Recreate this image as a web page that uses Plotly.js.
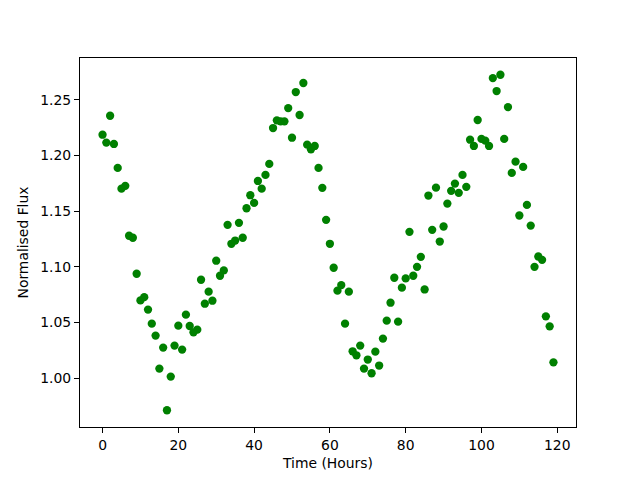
<!DOCTYPE html>
<html>
<head>
<meta charset="utf-8">
<script src="https://cdn.plot.ly/plotly-3.0.1.min.js"></script>
<style>html,body{margin:0;padding:0;background:#fff;}#chart{width:640px;height:480px;}</style>
</head>
<body>
<div id="chart"></div>
<script>
const hours = Array.from({length: 120}, (_, i) => i);
const flux = [
  1.2186, 1.2115, 1.2356, 1.2103, 1.1888, 1.1702, 1.1727, 1.1279, 1.1261, 1.0938,
  1.0699, 1.0728, 1.0616, 1.0490, 1.0383, 1.0087, 1.0275, 0.9713, 1.0015, 1.0293,
  1.0472, 1.0257, 1.0571, 1.0469, 1.0412, 1.0436, 1.0884, 1.0669, 1.0777, 1.0696,
  1.1055, 1.0920, 1.0968, 1.1377, 1.1207, 1.1236, 1.1395, 1.1261, 1.1526, 1.1643,
  1.1574, 1.1771, 1.1702, 1.1825, 1.1924, 1.2246, 1.2315, 1.2306, 1.2306, 1.2425,
  1.2159, 1.2569, 1.2363, 1.2650, 1.2097, 1.2055, 1.2085, 1.1888, 1.1709, 1.1422,
  1.1207, 1.0992, 1.0786, 1.0836, 1.0490, 1.0777, 1.0242, 1.0206, 1.0293, 1.0087,
  1.0168, 1.0045, 1.0239, 1.0114, 1.0356, 1.0517, 1.0678, 1.0902, 1.0508, 1.0813,
  1.0896, 1.1314, 1.0920, 1.1000, 1.1090, 1.0797, 1.1640, 1.1332, 1.1711, 1.1227,
  1.1362, 1.1568, 1.1682, 1.1747, 1.1664, 1.1825, 1.1718, 1.2141, 1.2085, 1.2318,
  1.2148, 1.2133, 1.2085, 1.2694, 1.2578, 1.2724, 1.2148, 1.2434, 1.1843, 1.1944,
  1.1461, 1.1897, 1.1556, 1.1370, 1.1000, 1.1093, 1.1063, 1.0556, 1.0466, 1.0143
];
const xTicks = [0, 20, 40, 60, 80, 100, 120];
const yTicks = [1.00, 1.05, 1.10, 1.15, 1.20, 1.25];
const yTickText = ['1.00', '1.05', '1.10', '1.15', '1.20', '1.25'];

const font = {family: 'DejaVu Sans', size: 13.9, color: '#000'};
const axisCommon = {
  showgrid: false, zeroline: false, showline: true, mirror: true,
  linecolor: '#000', linewidth: 1.1, ticks: 'outside', ticklen: 4.9,
  tickwidth: 1.1, tickcolor: '#000', tickfont: font
};
const xMin = Math.min(...hours), xMax = Math.max(...hours);
const yMin = Math.min(...flux), yMax = Math.max(...flux);
const xPad = (xMax - xMin) * 0.05, yPad = (yMax - yMin) * 0.05;

Plotly.newPlot('chart', [{
  x: hours, y: flux, type: 'scatter', mode: 'markers',
  marker: {color: '#008000', size: 8.3}
}], {
  width: 640, height: 480,
  margin: {l: 80, r: 64, t: 58, b: 53, pad: 0},
  paper_bgcolor: '#fff', plot_bgcolor: '#fff',
  showlegend: false,
  font: font,
  xaxis: Object.assign({}, axisCommon, {
    range: [xMin - xPad, xMax + xPad],
    tickvals: xTicks, ticktext: xTicks.map(String),
    title: {text: 'Time (Hours)', font: font, standoff: 6}
  }),
  yaxis: Object.assign({}, axisCommon, {
    range: [yMin - yPad, yMax + yPad],
    tickvals: yTicks, ticktext: yTickText,
    title: {text: 'Normalised Flux', font: font, standoff: 8}
  })
}, {displayModeBar: false, staticPlot: true});
</script>
</body>
</html>
